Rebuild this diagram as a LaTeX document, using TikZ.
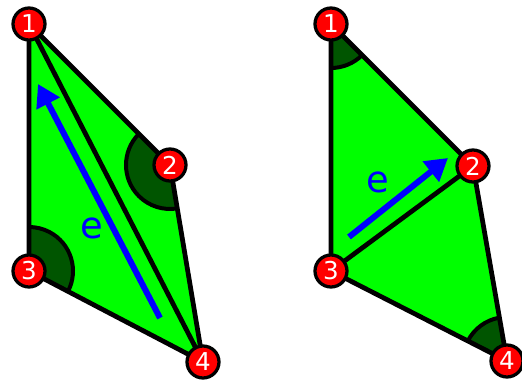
\documentclass[tikz,border=0pt]{standalone}
\usepackage{fontspec}
\setmainfont{DejaVu Sans}
\usetikzlibrary{arrows.meta}
\definecolor{lightgreen}{HTML}{00FF00}
\definecolor{darkgreen}{HTML}{005500}
\begin{document}
\begin{tikzpicture}[
    x=0.02cm, y=0.02cm,
    vert/.style={circle, draw=black, line width=0.065cm, fill=red, text=white, minimum size=0.64cm, inner sep=0pt, font=\fontsize{14}{14}\selectfont},
    edge/.style={draw=black, line width=0.095cm, line join=round},
    sector/.style={fill=darkgreen},
    rim/.style={draw=black, line width=0.08cm},
    dir/.style={-{Triangle[length=0.44cm, width=0.5cm]}, draw=blue, line width=0.12cm},
    lbl/.style={text=blue, font=\fontsize{21}{21}\selectfont}
]
\useasboundingbox (0,0) rectangle (522,386);
% left element
\coordinate (l1) at (29, 362);
\coordinate (l2) at (170, 221);
\coordinate (l3) at (29, 115);
\coordinate (l4) at (203, 24);
\fill[lightgreen] (l1) -- (l2) -- (l4) -- (l3) -- cycle;
\fill[sector] (l2) -- ++(135:44) arc[start angle=135, end angle=279.5, radius=44] -- cycle;
\draw[rim] (l2) ++(135:44) arc[start angle=135, end angle=279.5, radius=44];
\fill[sector] (l3) -- ++(-27.6:44) arc[start angle=-27.6, end angle=90, radius=44] -- cycle;
\draw[rim] (l3) ++(-27.6:44) arc[start angle=-27.6, end angle=90, radius=44];
\draw[edge] (l1) -- (l2) -- (l4) -- (l3) -- cycle;
\draw[edge] (l1) -- (l4);
\coordinate (le0) at (160, 68);
\coordinate (le1) at (38, 302);
\draw[dir] (le0) -- (le1);
\node[lbl] (le) at (92, 158) {e};
\node[vert] (n1) at (l1) {1};
\node[vert] (n2) at (l2) {2};
\node[vert] (n3) at (l3) {3};
\node[vert] (n4) at (l4) {4};
% right element
\coordinate (r1) at (331, 362);
\coordinate (r2) at (473, 220);
\coordinate (r3) at (331, 115);
\coordinate (r4) at (507, 25);
\fill[lightgreen] (r1) -- (r2) -- (r4) -- (r3) -- cycle;
\fill[sector] (r1) -- ++(270:44) arc[start angle=270, end angle=315, radius=44] -- cycle;
\draw[rim] (r1) ++(270:44) arc[start angle=270, end angle=315, radius=44];
\fill[sector] (r4) -- ++(99.9:44) arc[start angle=99.9, end angle=152.9, radius=44] -- cycle;
\draw[rim] (r4) ++(99.9:44) arc[start angle=99.9, end angle=152.9, radius=44];
\draw[edge] (r1) -- (r2) -- (r4) -- (r3) -- cycle;
\draw[edge] (r3) -- (r2);
\coordinate (re0) at (349, 149);
\coordinate (re1) at (448, 228);
\draw[dir] (re0) -- (re1);
\node[lbl] (re) at (378, 204) {e};
\node[vert] (m1) at (r1) {1};
\node[vert] (m2) at (r2) {2};
\node[vert] (m3) at (r3) {3};
\node[vert] (m4) at (r4) {4};
\end{tikzpicture}
\end{document}
